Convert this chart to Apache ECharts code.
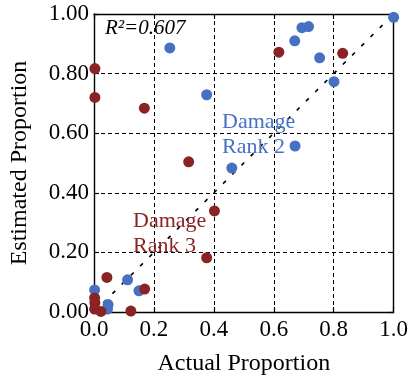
<!DOCTYPE html>
<html>
<head>
<meta charset="utf-8">
<script src="https://cdn.jsdelivr.net/npm/echarts@6/dist/echarts.min.js"></script>
<style>
  html, body { margin: 0; padding: 0; background: #fff; }
  #chart { width: 411px; height: 381px; }
</style>
</head>
<body>
<div id="chart"></div>
<script>
// Actual vs. estimated proportion, per damage rank
const rank2Points = [
  [0.253, 0.886], [0.376, 0.729], [1.000, 0.989], [0.694, 0.954], [0.716, 0.958],
  [0.670, 0.910], [0.753, 0.853], [0.801, 0.773], [0.671, 0.557], [0.460, 0.483],
  [0.002, 0.074], [0.112, 0.108], [0.150, 0.071], [0.047, 0.025], [0.045, 0.010]
];
const rank3Points = [
  [0.003, 0.817], [0.003, 0.720], [0.168, 0.684], [0.316, 0.504], [0.617, 0.872],
  [0.830, 0.868], [0.402, 0.339], [0.376, 0.182], [0.043, 0.116], [0.169, 0.077],
  [0.123, 0.003], [0.002, 0.047], [0.003, 0.031], [0.002, 0.010], [0.023, 0.002]
];
const identityLine = [[0, 0], [1, 1]];
const xTickLabels = ['0.0', '0.2', '0.4', '0.6', '0.8', '1.0'];
const yTickLabels = ['0.00', '0.20', '0.40', '0.60', '0.80', '1.00'];
const r2Text = 'R²=0.607';

const BLUE = '#4671c3';
const RED = '#8a2424';
const SERIF = "'Liberation Serif', 'Times New Roman', serif";

const chart = echarts.init(document.getElementById('chart'), null, { renderer: 'canvas' });

const frameAxis = {
  type: 'value', min: 0, max: 1, interval: 0.2,
  axisLine: { show: true, onZero: false, lineStyle: { color: '#000', width: 1.4 } },
  axisTick: { show: true, inside: true, length: 5, lineStyle: { color: '#000', width: 1.2 } },
  axisLabel: { show: false },
  splitLine: { show: false }
};

chart.setOption({
  animation: false,
  backgroundColor: '#fff',
  grid: { left: 93, top: 14, width: 302, height: 302 },
  xAxis: [
    Object.assign({}, frameAxis, {
      position: 'bottom',
      name: 'Actual Proportion',
      nameLocation: 'middle',
      nameGap: 40,
      nameTextStyle: { fontFamily: SERIF, fontSize: 24, color: '#000' },
      axisLabel: {
        show: true, margin: 6, fontFamily: SERIF, fontSize: 23, color: '#000',
        formatter: v => xTickLabels[Math.round(v / 0.2)]
      },
      splitLine: { show: true, lineStyle: { color: '#000', width: 1, type: [4, 3] } }
    }),
    Object.assign({}, frameAxis, { position: 'top' })
  ],
  yAxis: [
    Object.assign({}, frameAxis, {
      position: 'left',
      name: 'Estimated Proportion',
      nameLocation: 'middle',
      nameGap: 62,
      nameTextStyle: { fontFamily: SERIF, fontSize: 24, color: '#000' },
      axisLabel: {
        show: true, margin: 5, fontFamily: SERIF, fontSize: 23, color: '#000',
        formatter: v => yTickLabels[Math.round(v / 0.2)]
      },
      splitLine: { show: true, lineStyle: { color: '#000', width: 1, type: [4, 3] } }
    }),
    Object.assign({}, frameAxis, { position: 'right' })
  ],
  series: [
    {
      name: '1:1',
      type: 'line',
      data: identityLine,
      symbol: 'none',
      silent: true,
      lineStyle: { color: '#000', width: 1.6, type: [4, 9] },
      z: 3
    },
    {
      name: 'Damage Rank 2',
      type: 'scatter',
      data: rank2Points,
      symbol: 'circle',
      symbolSize: 11,
      itemStyle: { color: BLUE, opacity: 1 },
      z: 4
    },
    {
      name: 'Damage Rank 3',
      type: 'scatter',
      data: rank3Points,
      symbol: 'circle',
      symbolSize: 11,
      itemStyle: { color: RED, opacity: 1 },
      z: 5
    }
  ],
  graphic: [
    { type: 'text', left: 105, top: 18, z: 10,
      style: { text: r2Text, fontFamily: SERIF, fontStyle: 'italic', fontSize: 21, fill: '#000' } },
    { type: 'text', left: 222, top: 110, z: 10,
      style: { text: 'Damage\nRank 2', fontFamily: SERIF, fontSize: 22, lineHeight: 25, fill: BLUE } },
    { type: 'text', left: 133, top: 209, z: 10,
      style: { text: 'Damage\nRank 3', fontFamily: SERIF, fontSize: 22, lineHeight: 25, fill: RED } }
  ]
});
</script>
</body>
</html>
